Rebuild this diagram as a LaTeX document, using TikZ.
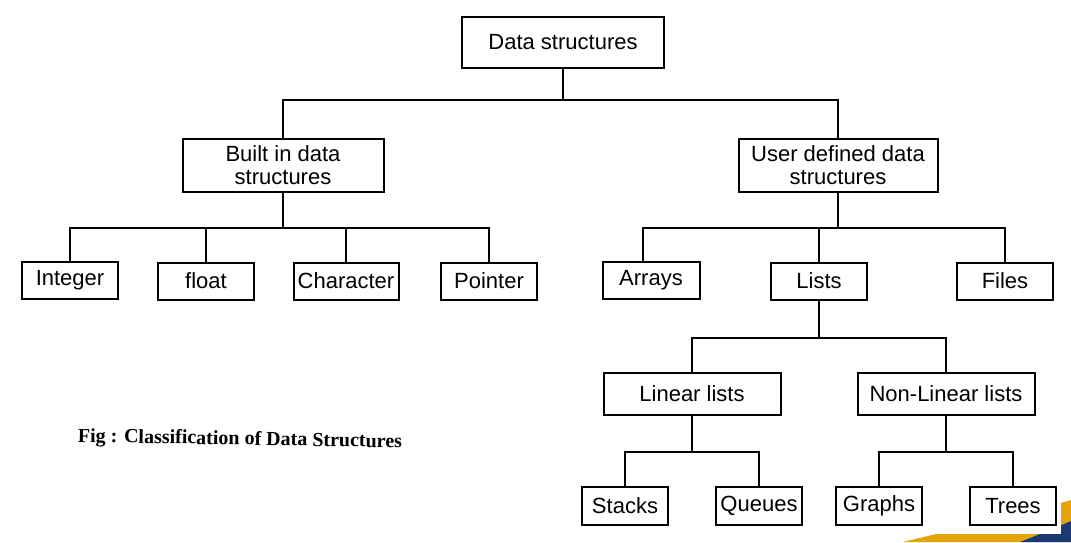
\documentclass[tikz,border=0pt]{standalone}
\usepackage{fontspec}
\setmainfont{Liberation Sans}
\newfontfamily\capfont{Liberation Serif}
\usetikzlibrary{calc}

\definecolor{swoopyellow}{HTML}{E5A50A}
\definecolor{swoopblue}{HTML}{1B3A73}

\tikzset{
    dsbox/.style={draw, line width=2pt, align=center, inner sep=0pt,
        font=\fontsize{22}{23}\selectfont},
    link/.style={line width=2pt}
}

\begin{document}
\begin{tikzpicture}[x=1pt, y=-1pt]
    % 1. Canvas and corner decoration
    \useasboundingbox (0,0) rectangle (1071,542);
    \fill[swoopyellow] (903,542) .. controls (960,528) and (1020,515) .. (1071,500) -- (1071,542) -- cycle;
    \fill[swoopblue] (1020,542) .. controls (1040,534) and (1055,528) .. (1071,521) -- (1071,542) -- cycle;
    \fill[white] (0,0) rectangle (1061,534);

    % 2. Boxes
    \node[dsbox, minimum width=202pt, minimum height=51pt] (ds) at (563,42) {Data structures};
    \node[dsbox, minimum width=201pt, minimum height=53pt] (bi) at (283,165) {Built in data\\structures};
    \node[dsbox, minimum width=199pt, minimum height=53pt] (ud) at (838,165) {User defined data\\structures};

    \node[dsbox, minimum width=96pt, minimum height=37pt] (int) at (70,280) {Integer};
    \node[dsbox, minimum width=96pt, minimum height=37pt] (flt) at (206,281) {float};
    \node[dsbox, minimum width=105pt, minimum height=37pt] (chr) at (346,281) {Character};
    \node[dsbox, minimum width=96pt, minimum height=37pt] (ptr) at (489,281) {Pointer};

    \node[dsbox, minimum width=97pt, minimum height=37pt] (arr) at (651,280) {Arrays};
    \node[dsbox, minimum width=96pt, minimum height=37pt] (lst) at (819,281) {Lists};
    \node[dsbox, minimum width=96pt, minimum height=37pt] (fil) at (1005,281) {Files};

    \node[dsbox, minimum width=177pt, minimum height=42pt] (lin) at (692,394) {Linear lists};
    \node[dsbox, minimum width=177pt, minimum height=42pt] (nln) at (946,394) {Non-Linear lists};

    \node[dsbox, minimum width=86pt, minimum height=38pt] (stk) at (625,506) {Stacks};
    \node[dsbox, minimum width=86pt, minimum height=38pt] (que) at (759,506) {Queues};
    \node[dsbox, minimum width=86pt, minimum height=38pt] (gra) at (879,506) {Graphs};
    \node[dsbox, minimum width=86pt, minimum height=38pt] (tre) at (1013,506) {Trees};

    % 3. Connectors (junction on each bar, then down to the children)
    \coordinate (j0) at (563,100);
    \coordinate (j1) at (283,228);
    \coordinate (j2) at (838,228);
    \coordinate (j3) at (819,338);
    \coordinate (j4) at (692,452);
    \coordinate (j5) at (946,452);

    \draw[link] (ds.south) -- (j0);
    \foreach \c in {bi,ud} \draw[link] (j0) -| (\c.north);
    \draw[link] (bi.south) -- (j1);
    \foreach \c in {int,flt,chr,ptr} \draw[link] (j1) -| (\c.north);
    \draw[link] (ud.south) -- (j2);
    \draw[link] (j2) -| ([xshift=-8pt]arr.north);
    \draw[link] (j2) -| (lst.north);
    \draw[link] (j2) -| (fil.north);
    \draw[link] (lst.south) -- (j3);
    \foreach \c in {lin,nln} \draw[link] (j3) -| (\c.north);
    \draw[link] (lin.south) -- (j4);
    \foreach \c in {stk,que} \draw[link] (j4) -| (\c.north);
    \draw[link] (nln.south) -- (j5);
    \foreach \c in {gra,tre} \draw[link] (j5) -| (\c.north);

    % 4. Caption
    \node[font=\capfont\bfseries\fontsize{20}{22}\selectfont, rotate=-1] (cap) at (240,440) {Fig : Classification of Data Structures};
\end{tikzpicture}
\end{document}
